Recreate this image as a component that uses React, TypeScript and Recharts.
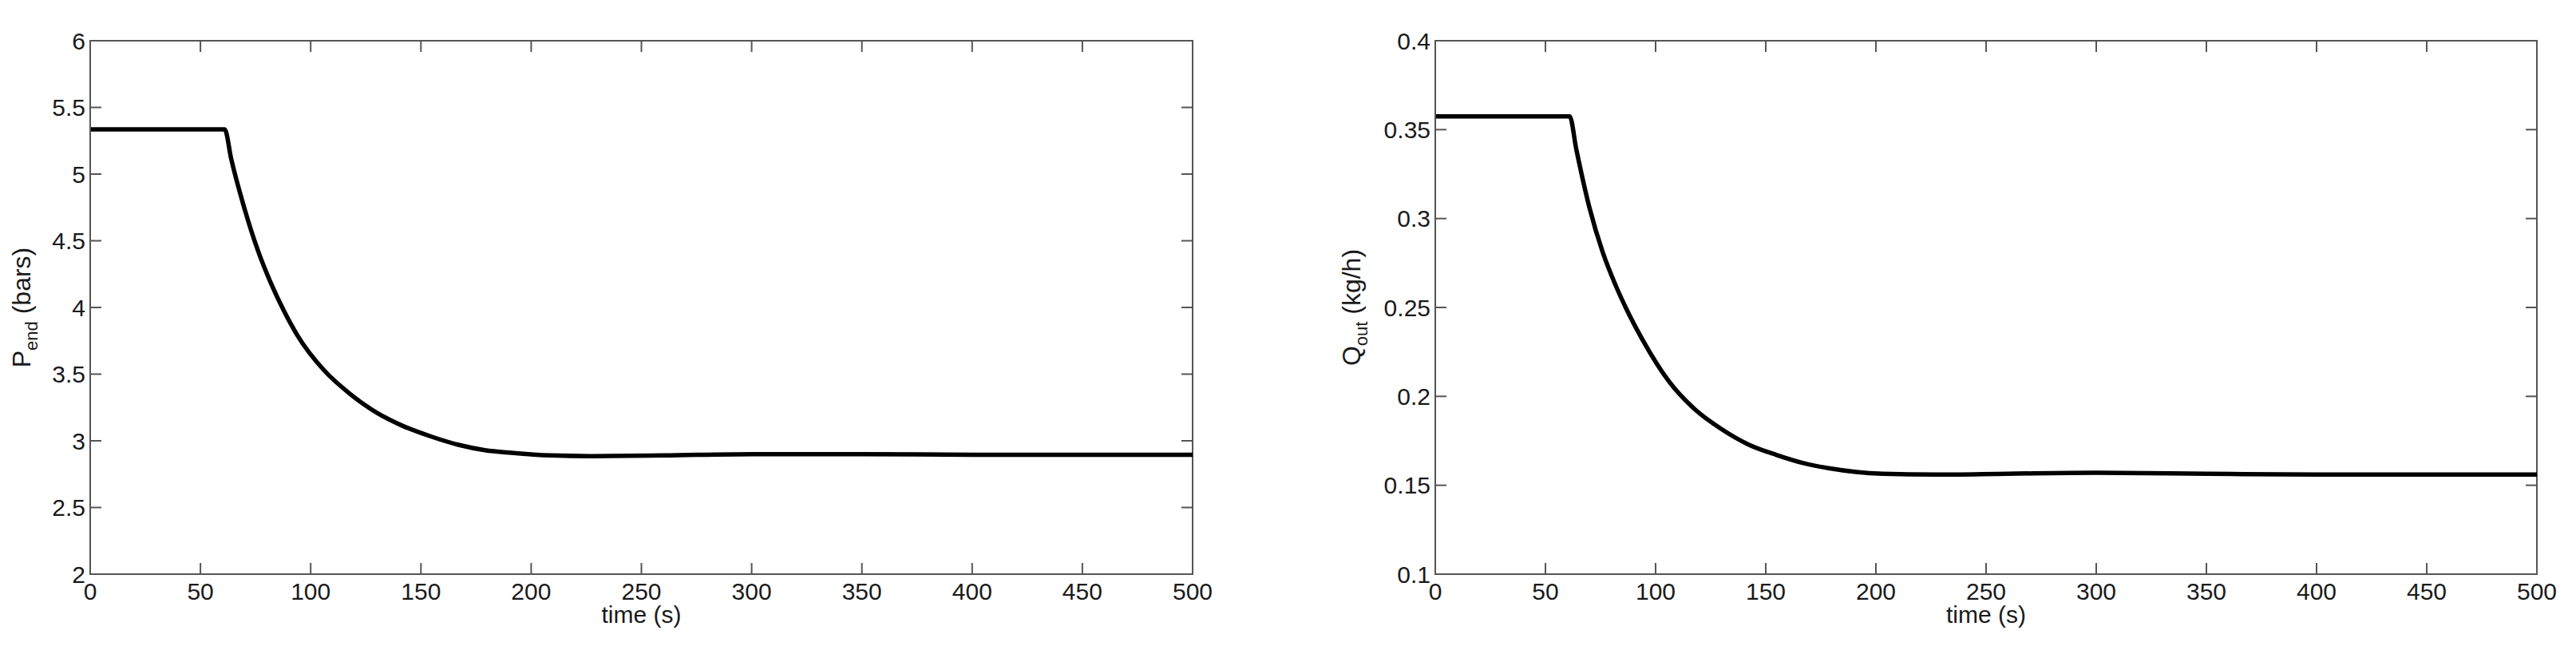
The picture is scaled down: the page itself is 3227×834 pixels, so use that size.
import { LineChart, Line, XAxis, YAxis, ReferenceArea } from "recharts";

// time (s) and values
const pTime = [0, 61, 64, 70, 76, 82, 88, 94, 106, 118, 130, 142, 155, 167, 179, 191, 209, 227, 260, 300, 350, 400, 450, 500];
const pEnd = [5.335, 5.335, 5.11, 4.74, 4.43, 4.18, 3.97, 3.79, 3.53, 3.35, 3.21, 3.11, 3.03, 2.97, 2.93, 2.91, 2.89, 2.885, 2.89, 2.9, 2.9, 2.895, 2.895, 2.895];

const qTime = [0, 61, 64, 70, 76, 82, 88, 94, 106, 118, 130, 142, 155, 167, 179, 191, 203, 227, 260, 300, 350, 400, 450, 500];
const qOut = [0.3575, 0.3575, 0.339, 0.306, 0.281, 0.262, 0.246, 0.232, 0.2085, 0.1925, 0.1815, 0.173, 0.167, 0.1625, 0.1595, 0.1575, 0.1565, 0.156, 0.1565, 0.157, 0.1565, 0.156, 0.156, 0.156];

const timeTicks = [0, 50, 100, 150, 200, 250, 300, 350, 400, 450, 500];
const pTicks = [2, 2.5, 3, 3.5, 4, 4.5, 5, 5.5, 6];
const qTicks = [0.1, 0.15, 0.2, 0.25, 0.3, 0.35, 0.4];

const FONT = '"Liberation Sans", Arial, sans-serif';
const AXIS = "#555";
const TEXT = "#1a1a1a";
const TICK_LEN = 14;
const HEIGHT = 834;
const PLOT_TOP = 51;
const PLOT_BOTTOM = 719;

// bottom tick: label + inward marks on the bottom and top edges
const BottomTick = (props: any) => {
  const { x, payload } = props;
  return (
    <g>
      <line x1={x} y1={PLOT_BOTTOM} x2={x} y2={PLOT_BOTTOM - TICK_LEN} stroke={AXIS} strokeWidth={2} />
      <line x1={x} y1={PLOT_TOP} x2={x} y2={PLOT_TOP + TICK_LEN} stroke={AXIS} strokeWidth={2} />
      <text x={x} y={PLOT_BOTTOM + 21} textAnchor="middle" dominantBaseline="central" fontSize={30} fontFamily={FONT} fill={TEXT}>
        {payload.value}
      </text>
    </g>
  );
};

// left tick: label + inward marks on the left and right edges
const LeftTick = (props: any) => {
  const { x, y, payload, plotRight } = props;
  return (
    <g>
      <line x1={x} y1={y} x2={x + TICK_LEN} y2={y} stroke={AXIS} strokeWidth={2} />
      <line x1={plotRight} y1={y} x2={plotRight - TICK_LEN} y2={y} stroke={AXIS} strokeWidth={2} />
      <text x={x - 6} y={y} textAnchor="end" dominantBaseline="central" fontSize={30} fontFamily={FONT} fill={TEXT}>
        {payload.value}
      </text>
    </g>
  );
};

const YLabel = ({ viewBox, main, sub, unit, gap }: any) => {
  const cx = viewBox.x + viewBox.width - gap;
  const cy = viewBox.y + viewBox.height / 2;
  return (
    <text x={cx} y={cy} transform={`rotate(-90, ${cx}, ${cy})`} textAnchor="middle" fontSize={32} fontFamily={FONT} fill={TEXT}>
      <tspan>{main}</tspan>
      <tspan dy={9} fontSize={22}>{sub}</tspan>
      <tspan dy={-9}>{" " + unit}</tspan>
    </text>
  );
};

const XLabel = ({ viewBox }: any) => (
  <text x={viewBox.x + viewBox.width / 2} y={PLOT_BOTTOM + 61} textAnchor="middle" fontSize={30} fontFamily={FONT} fill={TEXT}>
    time (s)
  </text>
);

interface PanelProps {
  left: number;
  width: number;
  marginLeft: number;
  marginRight: number;
  times: number[];
  values: number[];
  domain: [number, number];
  ticks: number[];
  main: string;
  sub: string;
  unit: string;
  labelGap: number;
}

const Panel = ({ left, width, marginLeft, marginRight, times, values, domain, ticks, main, sub, unit, labelGap }: PanelProps) => {
  const data = times.map((t, i) => ({ t, v: values[i] }));
  const plotRight = width - marginRight;
  const margin = { top: PLOT_TOP, left: marginLeft, right: marginRight, bottom: HEIGHT - PLOT_BOTTOM - 30 };
  return (
    <div style={{ position: "absolute", left, top: 0 }}>
      <LineChart width={width} height={HEIGHT} data={data} margin={margin}>
        <XAxis
          dataKey="t"
          type="number"
          domain={[0, 500]}
          ticks={timeTicks}
          interval={0}
          allowDataOverflow
          height={30}
          tickSize={0}
          tickMargin={0}
          tickLine={false}
          tick={<BottomTick />}
          axisLine={{ stroke: AXIS, strokeWidth: 2 }}
          label={<XLabel />}
        />
        <YAxis
          type="number"
          domain={domain}
          ticks={ticks}
          interval={0}
          allowDataOverflow
          width={60}
          tickSize={0}
          tickMargin={0}
          tickLine={false}
          tick={<LeftTick plotRight={plotRight} />}
          axisLine={{ stroke: AXIS, strokeWidth: 2 }}
          label={<YLabel main={main} sub={sub} unit={unit} gap={labelGap} />}
        />
        {/* axes box */}
        <ReferenceArea x1={0} x2={500} y1={domain[0]} y2={domain[1]} fill="none" fillOpacity={0} stroke={AXIS} strokeWidth={2} />
        <Line
          dataKey="v"
          type="monotone"
          stroke="#000"
          strokeWidth={5.5}
          dot={false}
          activeDot={false}
          isAnimationActive={false}
        />
      </LineChart>
    </div>
  );
};

export default function App() {
  return (
    <div style={{ position: "absolute", left: 0, top: 0, width: 3227, height: HEIGHT, background: "#fff" }}>
      <Panel
        left={0}
        width={1600}
        marginLeft={53}
        marginRight={106}
        times={pTime}
        values={pEnd}
        domain={[2, 6]}
        ticks={pTicks}
        main="P"
        sub="end"
        unit="(bars)"
        labelGap={75}
      />
      <Panel
        left={1600}
        width={1627}
        marginLeft={138}
        marginRight={49}
        times={qTime}
        values={qOut}
        domain={[0.1, 0.4]}
        ticks={qTicks}
        main="Q"
        sub="out"
        unit="(kg/h)"
        labelGap={94}
      />
    </div>
  );
}
